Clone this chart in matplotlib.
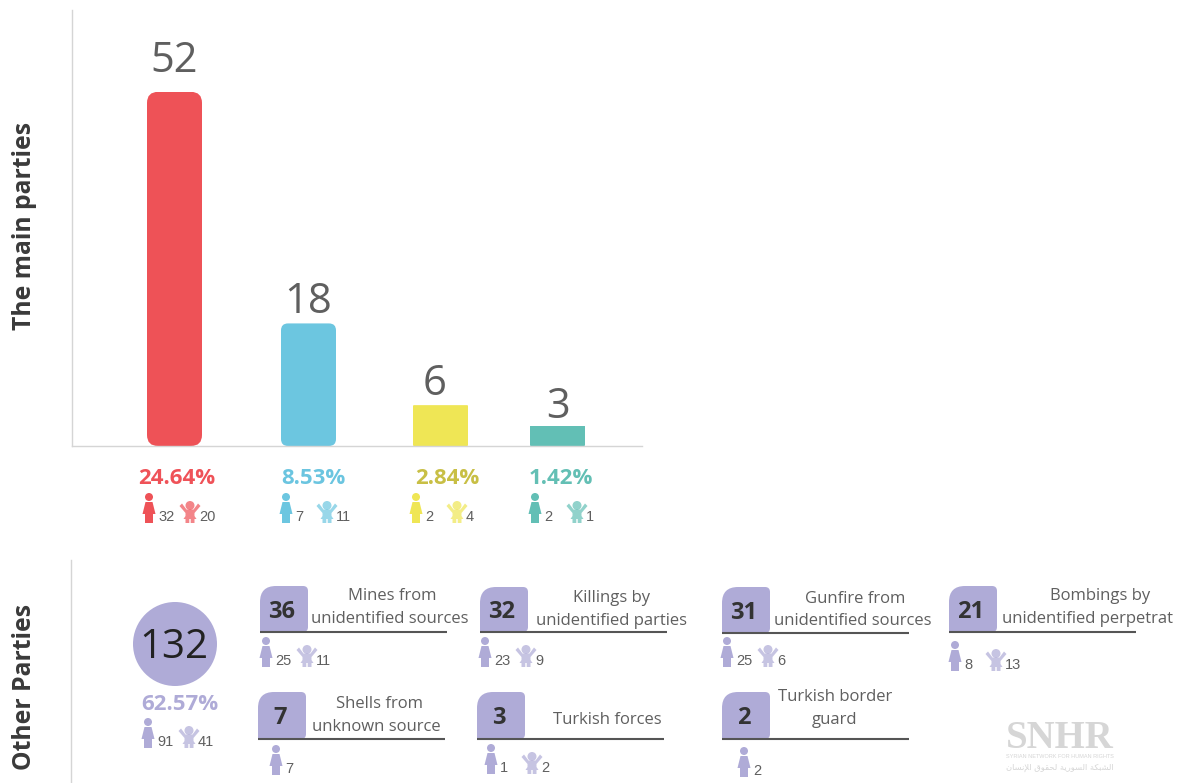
import matplotlib
matplotlib.use('Agg')
import matplotlib.pyplot as plt
from matplotlib.patches import Circle, FancyBboxPatch, PathPatch, Polygon
from matplotlib.path import Path

# main parties
main_values = [52, 18, 6, 3]
main_pcts = ['24.64%', '8.53%', '2.84%', '1.42%']
main_men = [32, 7, 2, 2]
main_kids = [20, 11, 4, 1]

# other parties
other_total = 132
other_pct = '62.57%'
other_men = 91
other_kids = 41
item_values = [36, 32, 31, 21, 7, 3, 2]
item_labels = [['Mines from', 'unidentified sources'],
               ['Killings by', 'unidentified parties'],
               ['Gunfire from', 'unidentified sources'],
               ['Bombings by', 'unidentified perpetrat'],
               ['Shells from', 'unknown source'],
               ['Turkish forces'],
               ['Turkish border', 'guard']]
item_men = [25, 23, 25, 8, 7, 1, 2]
item_kids = [11, 9, 6, 13, None, 2, None]

# colours
bar_colors = ['#ee5257', '#6cc6e0', '#efe655', '#62bfb5']
pct_colors = ['#ef5258', '#6bc5e0', '#c8bf45', '#63bfb4']
purple = '#afabd7'
grey = '#5f5f5f'
dark = '#333333'

# pixel layout
bar_x = [75, 209, 341, 458]
bar_w = [55, 55, 55, 55]
bar_r = [11, 7, 1, 1]
num_x = [174, 308, 435, 558]
num_y = [61, 302, 384, 407]
pct_x = [177, 313, 447, 561]
main_person_x = [149, 286, 416, 535]
main_child_x = [190, 327, 457, 577]

badge_x = [260, 480, 722, 949, 258, 477, 722]
badge_top = [586, 587, 587, 586, 692, 692, 692]
badge_bottom = [632, 632, 633, 632, 739, 739, 739]
label_cx = [[392, 390], [612, 612], [855, 853], [1100, 1088], [379, 376], [607], [835, 835]]
label_y = [[596, 619], [598, 621], [599, 621], [596, 619], [704, 727], [720], [697, 720]]
person_x = [266, 485, 727, 955, 276, 491, 744]
child_x = [307, 526, 768, 996, None, 532, None]
person_top = [637, 637, 637, 641, 745, 744, 747]

BODY_FONT = 'Open Sans'
NUM_FONT = 'Liberation Sans'

fig = plt.figure(figsize=(11.86, 7.83), dpi=100)
px = fig.add_axes([0, 0, 1, 1])
px.set_xlim(0, 1186)
px.set_ylim(783, 0)
px.axis('off')


def draw_person(x, top, color):
    px.add_patch(Circle((x, top + 4), 4, fc=color, ec='none'))
    pts = [(-3.5, 9), (3.5, 9), (6.5, 21), (4, 21), (4, 30), (-4, 30), (-4, 21), (-6.5, 21)]
    px.add_patch(Polygon([(x + a, top + b) for a, b in pts], fc=color, ec='none'))


def draw_child(x, top, color):
    c = matplotlib.colors.to_rgba(color, 0.7)
    px.add_patch(Circle((x, top + 4.5), 4.5, fc=c, ec='none'))
    pts = [(-8, 2.5), (-10.5, 5), (-4.5, 12), (-4.5, 15), (-6.5, 18), (-4.5, 18), (-4.5, 22), (-0.7, 22),
           (-0.7, 18), (0.7, 18), (0.7, 22), (4.5, 22), (4.5, 18), (6.5, 18), (4.5, 15), (4.5, 12),
           (10.5, 5), (8, 2.5), (3.5, 8.5), (-3.5, 8.5)]
    px.add_patch(Polygon([(x + a, top + b) for a, b in pts], fc=c, ec='none'))


def counts(pxx, cxx, top, men, kids, color):
    draw_person(pxx, top, color)
    px.text(pxx + 9, top + 28, str(men), fontsize=10.5, color=grey, family=NUM_FONT, va='baseline')
    if kids is not None:
        draw_child(cxx, top + 8, color)
        px.text(cxx + 9, top + 28, str(kids), fontsize=10.5, color=grey, family=NUM_FONT, va='baseline')


def badge(x0, y0, y1, w=48, big=16, small=5):
    x1 = x0 + w
    verts = [(x0, y1), (x0, y0 + big), (x0, y0), (x0 + big, y0), (x1 - small, y0), (x1, y0),
             (x1, y0 + small), (x1, y1 - small), (x1, y1), (x1 - small, y1), (x0, y1)]
    codes = [Path.MOVETO, Path.LINETO, Path.CURVE3, Path.CURVE3, Path.LINETO, Path.CURVE3,
             Path.CURVE3, Path.LINETO, Path.CURVE3, Path.CURVE3, Path.CLOSEPOLY]
    px.add_patch(PathPatch(Path(verts, codes), fc=purple, ec='none'))


# bars on their own axes, 72..642 px wide, baseline at y=446
ax = fig.add_axes([72 / 1186, 1 - 446 / 783, 570 / 1186, 436 / 783])
ax.set_xlim(0, 570)
ax.set_ylim(0, 436 / 6.81)
ax.patch.set_alpha(0)
ax.set_xticks([])
ax.set_yticks([])
for s in ['top', 'right']:
    ax.spines[s].set_visible(False)
for s in ['left', 'bottom']:
    ax.spines[s].set_color('#d5d5d5')
    ax.spines[s].set_linewidth(1)

bars = ax.bar(bar_x, main_values, width=bar_w, align='edge', color=bar_colors)
for b, r in zip(bars, bar_r):
    clip = FancyBboxPatch((b.get_x(), 0), b.get_width(), b.get_height(),
                          boxstyle='round,pad=0,rounding_size=%g' % r,
                          mutation_aspect=1 / 6.81, transform=ax.transData)
    b.set_clip_path(clip)

for i, v in enumerate(main_values):
    px.text(num_x[i], num_y[i], str(v), fontsize=30, color=grey, family=BODY_FONT,
            ha='center', va='center')
    px.text(pct_x[i], 479, main_pcts[i], fontsize=16, color=pct_colors[i], family=BODY_FONT,
            ha='center', va='center', fontweight='bold')
    counts(main_person_x[i], main_child_x[i], 493, main_men[i], main_kids[i], bar_colors[i])

# side titles
px.text(25, 226, 'The main parties', rotation=90, fontsize=17.8, fontweight='bold', color='#3a3a3a',
        family=BODY_FONT, ha='center', va='center')
px.text(25, 687, 'Other Parties', rotation=90, fontsize=17.8, fontweight='bold', color='#3a3a3a',
        family=BODY_FONT, ha='center', va='center')
px.plot([71, 71], [560, 783], color='#d5d5d5', lw=1)

# total circle
px.add_patch(Circle((175, 644), 42, fc=purple, ec='none'))
px.text(174, 648, str(other_total), fontsize=29, color='#222222', family=BODY_FONT, ha='center', va='center')
px.text(180, 704, other_pct, fontsize=16, color=purple, family=BODY_FONT, ha='center', va='center', fontweight='bold')
counts(148, 189, 718, other_men, other_kids, purple)

# other parties items
for i, v in enumerate(item_values):
    badge(badge_x[i], badge_top[i], badge_bottom[i])
    px.plot([badge_x[i], badge_x[i] + 187], [badge_bottom[i]] * 2, color='#555555', lw=1.5,
            solid_capstyle='butt')
    px.text(badge_x[i] + 22, (badge_top[i] + badge_bottom[i]) / 2 + 3, str(v), fontsize=17, fontweight='bold',
            color=dark, family=BODY_FONT, ha='center', va='center')
    for line, x, y in zip(item_labels[i], label_cx[i], label_y[i]):
        px.text(x, y, line, fontsize=12, color=grey, family=BODY_FONT, ha='center', va='center')
    counts(person_x[i], child_x[i], person_top[i], item_men[i], item_kids[i], purple)

# watermark
wm = '#d6d6d6'
px.text(1060, 738, 'SNHR', fontsize=28, fontweight='bold', color=wm, family='Liberation Serif', ha='center', va='center')
px.text(1060, 757, 'SYRIAN NETWORK FOR HUMAN RIGHTS', fontsize=4, color=wm, family='Liberation Sans', ha='center', va='center')
arabic = ('\uFEE5\uFE8E\uFEB4\uFEE7\uFEFA\uFE8D \uFED5\uFEEE\uFED8\uFEA4\uFEDF '
          '\uFE94\uFEF3\uFEAD\uFEEE\uFEB4\uFEDF\uFE8D \uFE94\uFEDC\uFE92\uFEB8\uFEDF\uFE8D')
px.text(1060, 767, arabic, fontsize=6, color=wm, family='DejaVu Sans', ha='center', va='center')

fig.savefig('out.png', dpi=100)
